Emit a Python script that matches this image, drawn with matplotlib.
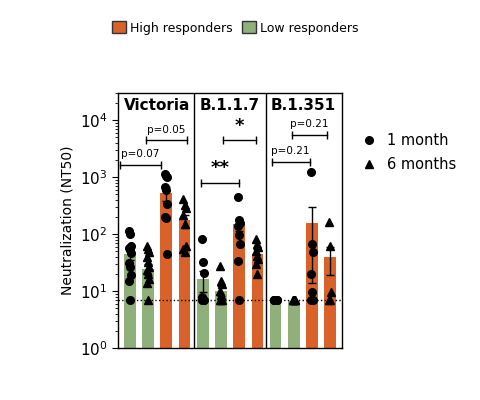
import numpy as np
import matplotlib
matplotlib.use('Agg')
import matplotlib.pyplot as plt
from matplotlib.patches import Patch
from matplotlib.lines import Line2D

# 데이터
variants = ['Victoria', 'B.1.1.7', 'B.1.351']
# 각 변이별 막대 순서: low 1m, low 6m, high 1m, high 6m
bar_means = [
    [44, 24.5, 525, 174],
    [16.3, 10.2, 148, 45],
    [6.8, 6.8, 156, 39.5],
]
bar_sem = [
    [9, 5, 150, 45],
    [6.5, 2, 35, 9],
    [0, 0, 142, 20],
]
points = [
    [[113, 102, 62, 57, 52, 46, 31, 26, 19, 15, 7],
     [63, 55, 48, 40, 32, 26, 23, 20, 16, 14, 7],
     [1150, 1050, 1000, 675, 600, 340, 200, 195, 45],
     [407, 318, 288, 214, 152, 63, 55, 48]],
    [[81, 32, 21, 7.8, 7, 7, 7, 7],
     [28, 15, 13.4, 10, 8.5, 7, 7, 7],
     [447, 178, 155, 136, 95, 68, 34, 7],
     [83, 68, 59, 50, 42, 36, 30, 20]],
    [[7, 7, 7, 7, 7, 7, 7, 7],
     [7, 7, 7, 7, 7, 7],
     [1230, 68, 48, 20, 9.5, 7, 7],
     [162, 62, 9.5, 7, 7]],
]
limit = 7
# 유의성 표시: (시작, 끝, 높이, 텍스트)
sig_marks = [
    (-0.55, 1.7, 1660, 'p=0.07'),
    (0.87, 3.13, 4470, 'p=0.05'),
    (3.92, 5.97, 795, '**'),
    (5.14, 6.92, 4470, '*'),
    (7.78, 9.87, 1860, 'p=0.21'),
    (8.92, 10.83, 5500, 'p=0.21'),
]

orange = '#D9622B'
green = '#8FB07A'
colors = [green, green, orange, orange]
markers = ['o', '^', 'o', '^']

fig = plt.figure(figsize=(4.8, 4), dpi=100)
ax = fig.add_axes([0.246, 0.13, 0.4665, 0.6375])
ax.set_yscale('log')

for g in range(3):
    for k in range(4):
        x = g * 4 + k
        ax.bar(x, bar_means[g][k], width=0.64, color=colors[k], zorder=1)
        if bar_sem[g][k] > 0:
            ax.errorbar(x, bar_means[g][k], yerr=bar_sem[g][k], color='k',
                        lw=1, capsize=3, capthick=1, zorder=3)
        vals = points[g][k]
        # 점 살짝 흩뿌리기
        offs = np.array([((i % 3) - 1) * 0.06 for i in range(len(vals))])
        ax.plot(x + offs, vals, linestyle='none', marker=markers[k],
                color='k', markersize=5.5, zorder=4)

ax.axhline(limit, color='k', ls=':', lw=1, zorder=2)
ax.axvline(3.5, color='k', lw=1)
ax.axvline(7.5, color='k', lw=1)

for x0, x1, y, txt in sig_marks:
    ax.plot([x0, x1], [y, y], color='k', lw=1, marker='|', markersize=6)
    if txt.startswith('p'):
        ax.text((x0 + x1) / 2, y * 1.25, txt, ha='center', va='bottom', fontsize=7.5)
    else:
        ax.text((x0 + x1) / 2, y * 1.25, txt, ha='center', va='bottom', fontsize=13,
                fontweight='bold')

for g, name in enumerate(variants):
    ax.text(g * 4 + 1.5, 18000, name, ha='center', va='center', fontsize=11,
            fontweight='bold')

ax.set_xlim(-0.65, 11.65)
ax.set_ylim(1, 30000)
ax.set_yticks([1, 10, 100, 1000, 10000])
ax.set_xticks([])
ax.tick_params(axis='y', which='major', labelsize=11, length=4)
ax.tick_params(axis='y', which='minor', length=2)
ax.set_ylabel('Neutralization (NT50)', fontsize=10)
for s in ax.spines.values():
    s.set_linewidth(1)

top_handles = [Patch(facecolor=orange, edgecolor='#333333', label='High responders'),
               Patch(facecolor=green, edgecolor='#333333', label='Low responders')]
fig.legend(handles=top_handles, loc='center', bbox_to_anchor=(0.49, 0.93), ncol=2,
           frameon=False, fontsize=9, handlelength=1.1, handleheight=1.1,
           handletextpad=0.3, columnspacing=0.8)

time_handles = [Line2D([], [], color='k', marker='o', ls='none', markersize=5.5, label='1 month'),
                Line2D([], [], color='k', marker='^', ls='none', markersize=5.5, label='6 months')]
fig.legend(handles=time_handles, loc='upper left', bbox_to_anchor=(0.71, 0.70),
           frameon=False, fontsize=10.5, handletextpad=0.3, labelspacing=0.6)

fig.savefig('out.png', dpi=100)
